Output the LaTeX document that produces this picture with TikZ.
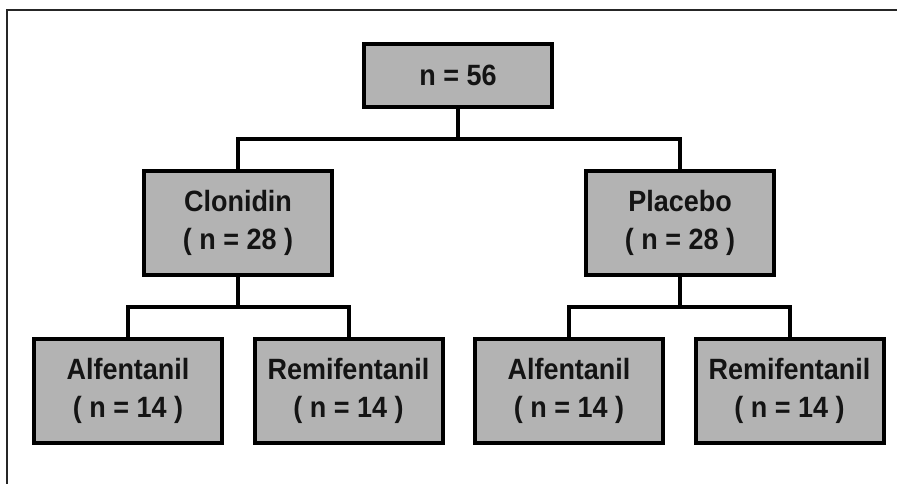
\documentclass[tikz,border=0pt]{standalone}
\usepackage{fontspec}
\setmainfont{Liberation Sans}
\newfontfamily\boxfont[FakeStretch=0.92]{Liberation Sans}
\definecolor{boxgray}{RGB}{179,179,179}
\definecolor{txt}{RGB}{20,20,20}
\begin{document}
\begin{tikzpicture}[x=0.75pt,y=-0.75pt,
  box/.style={draw=black, fill=boxgray, line width=3pt, rectangle,
    minimum width=141pt, inner sep=0pt, outer sep=0pt, align=center,
    text=txt, font=\boxfont\fontsize{22}{28.5}\selectfont\bfseries},
  tall/.style={box, minimum height=78pt},
  short/.style={box, minimum height=47.25pt},
  conn/.style={line width=3pt, line cap=rect}]
\useasboundingbox (0,0) rectangle (897,484);
\draw[line width=1.5pt, color=black!85] (7,484) -- (7,10) -- (897,10);
\node[short] (top) at (458,75.5) {n = 56};
\node[tall] (clon) at (238,223) {Clonidin\\( n = 28 )};
\node[tall] (plac) at (680,223) {Placebo\\( n = 28 )};
\node[tall] (a1) at (128,391) {Alfentanil\\( n = 14 )};
\node[tall] (r1) at (348.5,391) {Remifentanil\\( n = 14 )};
\node[tall] (a2) at (569,391) {Alfentanil\\( n = 14 )};
\node[tall] (r2) at (789.5,391) {Remifentanil\\( n = 14 )};
\coordinate (j0) at (458,139.5);
\coordinate (j1) at (238,307);
\coordinate (j2) at (680,307);
\draw[conn] (top.south) -- (j0);
\draw[conn] (clon.north) |- (j0) -| (plac.north);
\draw[conn] (clon.south) -- (j1);
\draw[conn] (a1.north) |- (j1) -| (r1.north);
\draw[conn] (plac.south) -- (j2);
\draw[conn] (a2.north) |- (j2) -| (r2.north);
\end{tikzpicture}
\end{document}
